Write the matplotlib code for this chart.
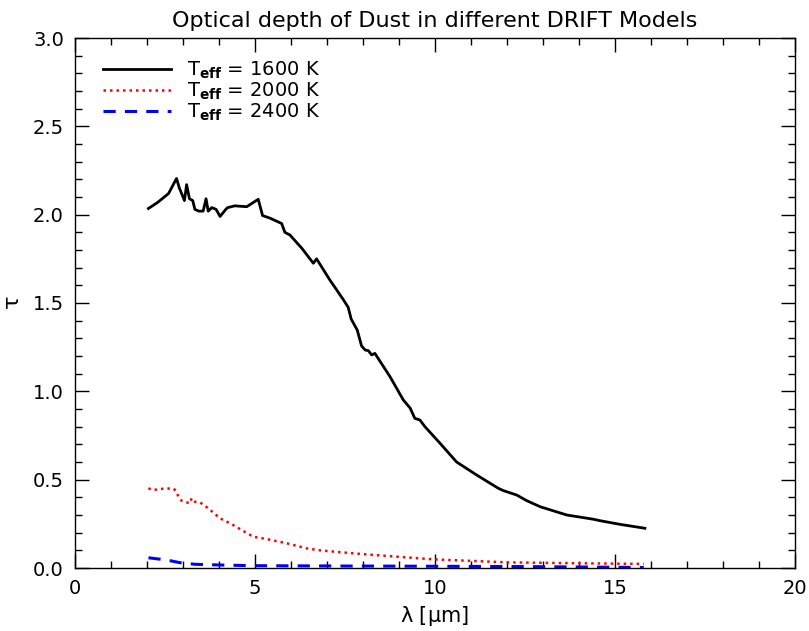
import matplotlib
matplotlib.use('Agg')
import matplotlib.pyplot as plt
from matplotlib.ticker import MultipleLocator

# T_eff = 1600 K
wl_1600 = [2.04, 2.3, 2.6, 2.82, 2.9, 3.04, 3.10, 3.18, 3.27, 3.33, 3.44, 3.56, 3.64, 3.70,
           3.80, 3.92, 4.03, 4.19, 4.24, 4.44, 4.77, 5.09, 5.21, 5.42, 5.74, 5.83, 5.97,
           6.30, 6.62, 6.71, 7.08, 7.45, 7.59, 7.67, 7.84, 7.96, 8.06, 8.15, 8.24, 8.33,
           8.75, 9.12, 9.31, 9.44, 9.58, 9.72, 10.14, 10.6, 11.16, 11.76, 11.9, 12.27,
           12.55, 12.92, 13.66, 14.4, 14.58, 15.14, 15.83]
tau_1600 = [2.035, 2.07, 2.12, 2.205, 2.15, 2.08, 2.17, 2.09, 2.08, 2.03, 2.02, 2.02, 2.09, 2.02,
            2.04, 2.03, 1.99, 2.03, 2.04, 2.05, 2.045, 2.087, 1.995, 1.98, 1.95, 1.90, 1.885,
            1.81, 1.725, 1.75, 1.63, 1.52, 1.475, 1.41, 1.347, 1.257, 1.234, 1.23, 1.206, 1.215,
            1.083, 0.951, 0.905, 0.847, 0.838, 0.80, 0.706, 0.60, 0.526, 0.451, 0.438, 0.413,
            0.381, 0.347, 0.30, 0.276, 0.268, 0.247, 0.225]

# T_eff = 2000 K
wl_2000 = [2.04, 2.18, 2.31, 2.73, 2.82, 2.87, 2.96, 3.19, 3.24, 3.33, 3.47, 3.70, 4.03, 4.31,
           4.68, 4.95, 5.32, 5.88, 6.44, 6.8, 7.73, 8.15, 9.95, 12.0, 13.9, 15.8]
tau_2000 = [0.451, 0.44, 0.447, 0.451, 0.432, 0.404, 0.381, 0.366, 0.395, 0.375, 0.372, 0.338,
            0.281, 0.253, 0.209, 0.177, 0.164, 0.14, 0.111, 0.10, 0.083, 0.076, 0.049, 0.032,
            0.027, 0.023]

# T_eff = 2400 K
wl_2400 = [2.04, 2.55, 2.92, 3.33, 4.03, 4.95, 7.7, 8.1, 12.5, 15.8]
tau_2400 = [0.058, 0.045, 0.03, 0.021, 0.017, 0.013, 0.011, 0.011, 0.008, 0.003]

labels = [r'T$_{\mathbf{eff}}$ = 1600 K', r'T$_{\mathbf{eff}}$ = 2000 K', r'T$_{\mathbf{eff}}$ = 2400 K']

plt.rcParams['font.family'] = 'DejaVu Sans'
plt.rcParams['mathtext.default'] = 'regular'

fig = plt.figure(figsize=(8.09, 6.31), dpi=100)
ax = fig.add_axes([75 / 809, 63 / 631, 720 / 809, 530 / 631])

ax.plot(wl_1600, tau_1600, color='black', lw=2.0, label=labels[0])
ax.plot(wl_2000, tau_2000, color='red', lw=1.8, ls=(0, (1, 1.6)), label=labels[1])
ax.plot(wl_2400, tau_2400, color='blue', lw=2.2, ls=(0, (4, 3)), label=labels[2])

ax.set_xlim(0, 20)
ax.set_ylim(0, 3.0)
ax.xaxis.set_major_locator(MultipleLocator(5))
ax.xaxis.set_minor_locator(MultipleLocator(1))
ax.yaxis.set_major_locator(MultipleLocator(0.5))
ax.yaxis.set_minor_locator(MultipleLocator(0.1))
ax.yaxis.set_major_formatter(matplotlib.ticker.FormatStrFormatter('%.1f'))
ax.tick_params(which='both', direction='in', top=True, right=True, labelsize=14, width=1)
ax.tick_params(which='major', length=10, pad=8)
ax.tick_params(which='minor', length=5)
for s in ax.spines.values():
    s.set_linewidth(1)

ax.set_title('Optical depth of Dust in different DRIFT Models', fontsize=16, pad=8)
ax.set_xlabel(r'$\lambda$ [$\mu$m]', fontsize=15, labelpad=4)
ax.set_ylabel(r'$\tau$', fontsize=16, labelpad=7)

ax.legend(loc='upper left', bbox_to_anchor=(0.02, 0.985), frameon=False, fontsize=14,
          handlelength=3.5, handletextpad=0.8, labelspacing=0.0, borderaxespad=0.3)

fig.savefig('out.png', dpi=100)
